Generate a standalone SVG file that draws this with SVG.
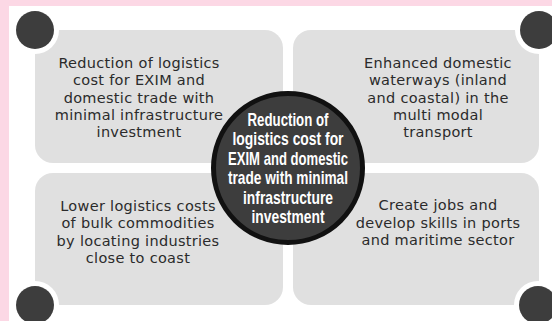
<svg xmlns="http://www.w3.org/2000/svg" width="552" height="321" viewBox="0 0 552 321">
<style>
.box{fill:#e0e0e0}
.ring{fill:#ffffff}
.dot{fill:#3d3d3d}
.t{font-family:"DejaVu Sans","Liberation Sans",sans-serif;font-size:14.5px;letter-spacing:0.3px;fill:#2b2b2b;text-anchor:middle}
.c{font-family:"Liberation Sans Narrow","Liberation Sans",sans-serif;font-weight:bold;font-size:19px;fill:#ffffff;text-anchor:middle}
</style>
<rect x="0" y="0" width="552" height="321" fill="#fcd8e5"/>
<rect x="9" y="6" width="543" height="315" fill="#ffffff"/>
<g id="node-tl">
<rect class="box" x="35" y="30" width="248" height="133" rx="18"/>
<text class="t"><tspan x="139" y="67.5">Reduction of logistics</tspan><tspan x="139" y="85">cost for EXIM and</tspan><tspan x="139" y="102.5">domestic trade with</tspan><tspan x="139" y="120">minimal infrastructure</tspan><tspan x="139" y="137">investment</tspan></text>
</g>
<g id="node-tr">
<rect class="box" x="293" y="30" width="246" height="133" rx="18"/>
<text class="t"><tspan x="438" y="67.5">Enhanced domestic</tspan><tspan x="438" y="85">waterways (inland</tspan><tspan x="438" y="102.5">and coastal) in the</tspan><tspan x="438" y="120">multi modal</tspan><tspan x="438" y="137">transport</tspan></text>
</g>
<g id="node-bl">
<rect class="box" x="35" y="173" width="248" height="132" rx="18"/>
<text class="t"><tspan x="138" y="210.5">Lower logistics costs</tspan><tspan x="138" y="228">of bulk commodities</tspan><tspan x="138" y="245.5">by locating industries</tspan><tspan x="138" y="263">close to coast</tspan></text>
</g>
<g id="node-br">
<rect class="box" x="293" y="173" width="246" height="132" rx="18"/>
<text class="t"><tspan x="438" y="210">Create jobs and</tspan><tspan x="438" y="227.5">develop skills in ports</tspan><tspan x="438" y="245">and maritime sector</tspan></text>
</g>
<g id="corners">
<circle class="ring" cx="35" cy="30" r="24"/><circle class="dot" cx="35" cy="30" r="19"/>
<circle class="ring" cx="539" cy="30" r="24"/><circle class="dot" cx="539" cy="30" r="19"/>
<circle class="ring" cx="35" cy="305" r="24"/><circle class="dot" cx="35" cy="305" r="19"/>
<circle class="ring" cx="538" cy="305" r="24"/><circle class="dot" cx="538" cy="305" r="19"/>
</g>
<g id="node-center">
<circle cx="288" cy="168" r="74.5" fill="#3d3d3d" stroke="#111111" stroke-width="5"/>
<text class="c"><tspan x="288" y="126" textLength="81" lengthAdjust="spacingAndGlyphs">Reduction of</tspan><tspan x="288" y="145.4" textLength="111" lengthAdjust="spacingAndGlyphs">logistics cost for</tspan><tspan x="288" y="164.8" textLength="120" lengthAdjust="spacingAndGlyphs">EXIM and domestic</tspan><tspan x="288" y="184.2" textLength="120" lengthAdjust="spacingAndGlyphs">trade with minimal</tspan><tspan x="288" y="203.6" textLength="90" lengthAdjust="spacingAndGlyphs">infrastructure</tspan><tspan x="288" y="223" textLength="73" lengthAdjust="spacingAndGlyphs">investment</tspan></text>
</g>
<g id="connectors"></g>
</svg>
